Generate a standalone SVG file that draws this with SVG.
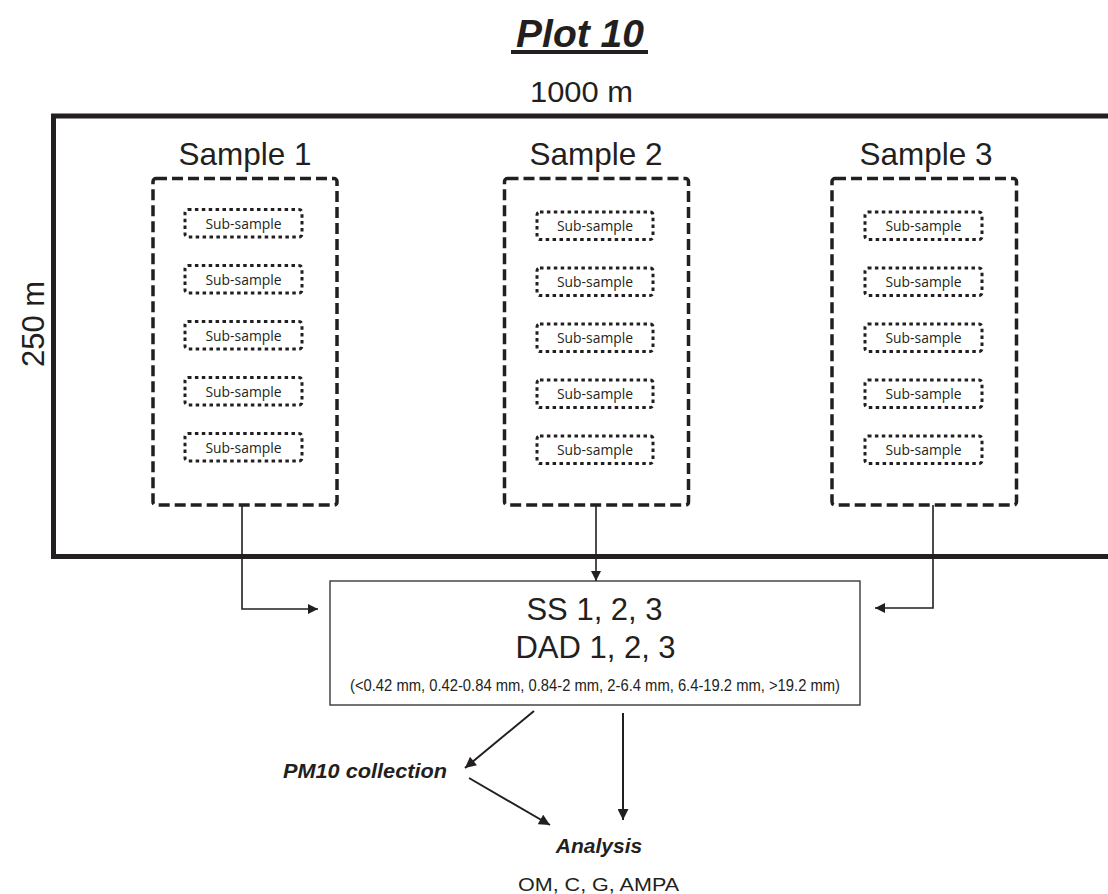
<svg xmlns="http://www.w3.org/2000/svg" width="1108" height="894" viewBox="0 0 1108 894">
<defs>
<style>
.t{font-family:"Liberation Sans",Arial,sans-serif;fill:#231f20}
.bi{font-weight:bold;font-style:italic}
.sample{fill:none;stroke:#231f20;stroke-width:3.5;stroke-dasharray:11 5}
.sub{fill:none;stroke:#231f20;stroke-width:3;stroke-dasharray:3.5 3.4}
.st{font-family:"Open Sans","Noto Sans",sans-serif;font-size:14.5px;fill:#231f20;text-anchor:middle}
.con{fill:none;stroke:#231f20;stroke-width:1.6}
.con2{fill:none;stroke:#231f20;stroke-width:2}
</style>
<marker id="ah" viewBox="0 0 10 10" refX="10" refY="5" markerWidth="10" markerHeight="10" markerUnits="userSpaceOnUse" orient="auto">
<path d="M0,0 L10,5 L0,10 Z" fill="#231f20"/>
</marker>
<marker id="ah2" viewBox="0 0 10 10" refX="10" refY="5" markerWidth="12" markerHeight="11" markerUnits="userSpaceOnUse" orient="auto">
<path d="M0,0 L10,5 L0,10 Z" fill="#231f20"/>
</marker>
</defs>
<rect width="1108" height="894" fill="#fff"/>

<g id="title">
<text class="t bi" x="580" y="47" font-size="39" text-anchor="middle">Plot 10</text>
<rect x="511" y="50" width="137" height="4" fill="#231f20"/>
</g>

<g id="plot">
<path d="M1112,116 H53.5 V556.5 H1112" fill="none" stroke="#231f20" stroke-width="5"/>
<text class="t" x="581.5" y="102" font-size="29" text-anchor="middle" textLength="103" lengthAdjust="spacingAndGlyphs">1000 m</text>
<text class="t" font-size="31" text-anchor="middle" transform="translate(44,324) rotate(-90)">250 m</text>
</g>

<g id="sample1">
<text class="t" x="245" y="165" font-size="31.5" text-anchor="middle">Sample 1</text>
<rect class="sample" x="153" y="178.5" width="184" height="326.5" rx="3"/>
<rect class="sub" x="185" y="209.5" width="117" height="27.5" rx="3"/>
<text class="st" x="243.5" y="228.5" textLength="76" lengthAdjust="spacingAndGlyphs">Sub-sample</text>
<rect class="sub" x="185" y="265.5" width="117" height="27.5" rx="3"/>
<text class="st" x="243.5" y="284.5" textLength="76" lengthAdjust="spacingAndGlyphs">Sub-sample</text>
<rect class="sub" x="185" y="321.5" width="117" height="27.5" rx="3"/>
<text class="st" x="243.5" y="340.5" textLength="76" lengthAdjust="spacingAndGlyphs">Sub-sample</text>
<rect class="sub" x="185" y="377.5" width="117" height="27.5" rx="3"/>
<text class="st" x="243.5" y="396.5" textLength="76" lengthAdjust="spacingAndGlyphs">Sub-sample</text>
<rect class="sub" x="185" y="433.5" width="117" height="27.5" rx="3"/>
<text class="st" x="243.5" y="452.5" textLength="76" lengthAdjust="spacingAndGlyphs">Sub-sample</text>
</g>

<g id="sample2">
<text class="t" x="596" y="165" font-size="31.5" text-anchor="middle">Sample 2</text>
<rect class="sample" x="504.5" y="178.5" width="184" height="326.5" rx="3"/>
<rect class="sub" x="537" y="212" width="116" height="27.5" rx="3"/>
<text class="st" x="595" y="231" textLength="76" lengthAdjust="spacingAndGlyphs">Sub-sample</text>
<rect class="sub" x="537" y="268" width="116" height="27.5" rx="3"/>
<text class="st" x="595" y="287" textLength="76" lengthAdjust="spacingAndGlyphs">Sub-sample</text>
<rect class="sub" x="537" y="324" width="116" height="27.5" rx="3"/>
<text class="st" x="595" y="343" textLength="76" lengthAdjust="spacingAndGlyphs">Sub-sample</text>
<rect class="sub" x="537" y="380" width="116" height="27.5" rx="3"/>
<text class="st" x="595" y="399" textLength="76" lengthAdjust="spacingAndGlyphs">Sub-sample</text>
<rect class="sub" x="537" y="436" width="116" height="27.5" rx="3"/>
<text class="st" x="595" y="455" textLength="76" lengthAdjust="spacingAndGlyphs">Sub-sample</text>
</g>

<g id="sample3">
<text class="t" x="926" y="165" font-size="31.5" text-anchor="middle">Sample 3</text>
<rect class="sample" x="832" y="178.5" width="184.5" height="326.5" rx="3"/>
<rect class="sub" x="865" y="212" width="117" height="27.5" rx="3"/>
<text class="st" x="923.5" y="231" textLength="76" lengthAdjust="spacingAndGlyphs">Sub-sample</text>
<rect class="sub" x="865" y="268" width="117" height="27.5" rx="3"/>
<text class="st" x="923.5" y="287" textLength="76" lengthAdjust="spacingAndGlyphs">Sub-sample</text>
<rect class="sub" x="865" y="324" width="117" height="27.5" rx="3"/>
<text class="st" x="923.5" y="343" textLength="76" lengthAdjust="spacingAndGlyphs">Sub-sample</text>
<rect class="sub" x="865" y="380" width="117" height="27.5" rx="3"/>
<text class="st" x="923.5" y="399" textLength="76" lengthAdjust="spacingAndGlyphs">Sub-sample</text>
<rect class="sub" x="865" y="436" width="117" height="27.5" rx="3"/>
<text class="st" x="923.5" y="455" textLength="76" lengthAdjust="spacingAndGlyphs">Sub-sample</text>
</g>

<g id="result">
<rect x="330" y="581" width="530" height="124" fill="#fff" stroke="#3a3a3a" stroke-width="1.4"/>
<text class="t" x="594.5" y="619.5" font-size="31" text-anchor="middle">SS 1, 2, 3</text>
<text class="t" x="595.5" y="658" font-size="31" text-anchor="middle">DAD 1, 2, 3</text>
<text class="t" x="595" y="691" font-size="17" text-anchor="middle" textLength="490" lengthAdjust="spacingAndGlyphs">(&lt;0.42 mm, 0.42-0.84 mm, 0.84-2 mm, 2-6.4 mm, 6.4-19.2 mm, &gt;19.2 mm)</text>
</g>

<g id="pm10">
<text class="t bi" x="365" y="778" font-size="21" text-anchor="middle" textLength="164" lengthAdjust="spacingAndGlyphs">PM10 collection</text>
</g>

<g id="analysis">
<text class="t bi" x="599" y="853" font-size="21" text-anchor="middle">Analysis</text>
<text class="t" x="598.5" y="891" font-size="19" text-anchor="middle" textLength="161" lengthAdjust="spacingAndGlyphs">OM, C, G, AMPA</text>
</g>

<g id="connectors">
<path class="con" d="M242,505 V609 H318" marker-end="url(#ah)"/>
<path class="con" d="M596,505 V581" marker-end="url(#ah)"/>
<path class="con" d="M933,505 V608 H875" marker-end="url(#ah)"/>
<path class="con2" d="M534,711 L465,768" marker-end="url(#ah2)"/>
<path class="con2" d="M469,778 L550,825" marker-end="url(#ah2)"/>
<path class="con2" d="M623,713 V820" marker-end="url(#ah2)"/>
</g>
</svg>
